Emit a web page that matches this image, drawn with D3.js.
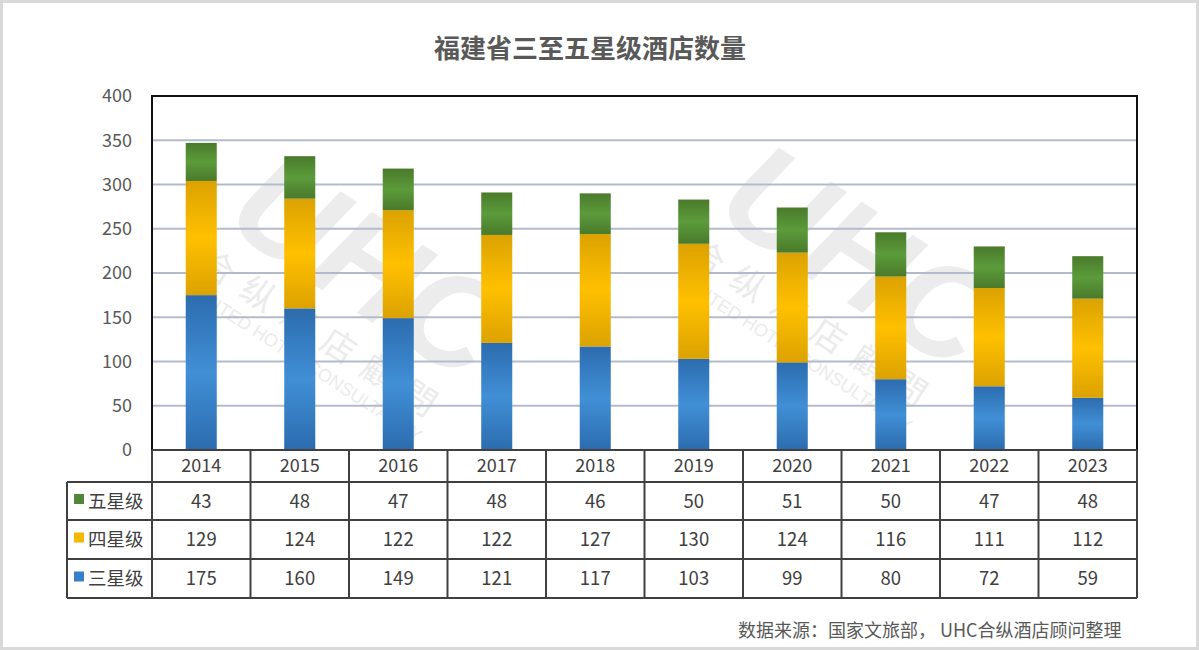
<!DOCTYPE html>
<html><head><meta charset="utf-8">
<script src="https://cdn.jsdelivr.net/npm/d3@7"></script>
<style>
html,body{margin:0;padding:0;background:#fff;}
svg{display:block;font-family:"Noto Sans CJK SC","Noto Sans",sans-serif;}
</style></head>
<body>
<svg id="c" width="1199" height="650"></svg>
<script>
const years = ["2014","2015","2016","2017","2018","2019","2020","2021","2022","2023"];
const threeStar = [175,160,149,121,117,103,99,80,72,59];
const fourStar = [129,124,122,122,127,130,124,116,111,112];
const fiveStar = [43,48,47,48,46,50,51,50,47,48];
const seriesNames = ["三星级","四星级","五星级"];
const yTicks = [0,50,100,150,200,250,300,350,400];
const title = "福建省三至五星级酒店数量";
const source = "数据来源：国家文旅部， UHC合纵酒店顾问整理";

const svg = d3.select("#c");
const W = 1199, H = 650;
const L = 152, R = 1137, T = 96, B = 450;

// outer frame
svg.append("rect").attr("x",1.5).attr("y",1.5).attr("width",W-3).attr("height",H-3)
  .attr("fill","#fff").attr("stroke","#d9d9d9").attr("stroke-width",3);

// gradients
const defs = svg.append("defs");
const grads = [
  {id:"g3", edge:"#2c6cae", mid:"#418fd6"},
  {id:"g4", edge:"#dca200", mid:"#ffc000"},
  {id:"g5", edge:"#4a7a2b", mid:"#5c9b3b"}
];
grads.forEach(g=>{
  const lg = defs.append("linearGradient").attr("id",g.id).attr("x1",0).attr("y1",0).attr("x2",0).attr("y2",1);
  lg.append("stop").attr("offset","0%").attr("stop-color",g.edge);
  lg.append("stop").attr("offset","50%").attr("stop-color",g.mid);
  lg.append("stop").attr("offset","100%").attr("stop-color",g.edge);
});

const x = d3.scaleBand().domain(years).range([L,R]).paddingInner(0.685).paddingOuter(0.3425);
const xc = d3.scaleBand().domain(years).range([L,R]).padding(0);
const y = d3.scaleLinear().domain([0,400]).range([B,T]);

// title
svg.append("text").attr("x",590).attr("y",58).attr("text-anchor","middle")
  .attr("font-size",26).attr("font-weight","bold").attr("fill","#595959").text(title);

// watermarks (behind)
function watermark(cx, cy){
  const g = svg.append("g").attr("transform",`translate(${cx},${cy}) rotate(33)`).attr("fill","#ebebeb");
  g.append("text").attr("x",0).attr("y",0).attr("text-anchor","middle").attr("font-size",135)
    .attr("font-weight","bold").attr("font-style","italic").attr("font-family","Liberation Sans, Arial, sans-serif")
    .attr("fill","#ececec").text("UHC");
  g.append("text").attr("x",0).attr("y",50).attr("text-anchor","middle").attr("font-size",34)
    .attr("letter-spacing",14).text("合纵酒店顧問");
  g.append("text").attr("x",0).attr("y",76).attr("text-anchor","middle").attr("font-size",18)
    .attr("font-family","Liberation Sans, Arial, sans-serif").text("UNITED HOTEL CONSULTANCY");
}
watermark(345,305);
watermark(835,295);

// gridlines
svg.append("g").selectAll("line").data(yTicks.filter(d=>d>0 && d<400)).join("line")
  .attr("x1",L).attr("x2",R).attr("y1",d=>y(d)).attr("y2",d=>y(d))
  .attr("stroke","#b3bbcb").attr("stroke-width",2);

// y axis
const yAxis = d3.axisLeft(y).tickValues(yTicks).tickSize(0).tickPadding(20);
const ya = svg.append("g").attr("transform",`translate(${L},0)`).call(yAxis);
ya.select(".domain").remove();
ya.selectAll("text").attr("font-size",18).attr("fill","#595959").attr("font-family","Noto Sans CJK SC, sans-serif");

// stacked bars
const rows = years.map((yr,i)=>({year:yr, s3:threeStar[i], s4:fourStar[i], s5:fiveStar[i]}));
const stack = d3.stack().keys(["s3","s4","s5"])(rows);
const fills = ["url(#g3)","url(#g4)","url(#g5)"];
svg.append("g").selectAll("g").data(stack).join("g").attr("fill",(d,i)=>fills[i])
  .selectAll("rect").data(d=>d).join("rect")
  .attr("x",d=>x(d.data.year)).attr("width",x.bandwidth())
  .attr("y",d=>y(d[1])).attr("height",d=>y(d[0])-y(d[1]));

// plot frame
svg.append("rect").attr("x",L).attr("y",T).attr("width",R-L).attr("height",B-T)
  .attr("fill","none").attr("stroke","#111").attr("stroke-width",2);

// data table
const rowY = [450,482,520,559,598];
const tableStroke = "#404040";
const tg = svg.append("g");
tg.append("line").attr("x1",L).attr("x2",R).attr("y1",rowY[0]).attr("y2",rowY[0]).attr("stroke",tableStroke).attr("stroke-width",2);
rowY.slice(1).forEach(yy=>{
  tg.append("line").attr("x1",67).attr("x2",R).attr("y1",yy).attr("y2",yy).attr("stroke",tableStroke).attr("stroke-width",2);
});
tg.append("line").attr("x1",67).attr("x2",67).attr("y1",rowY[1]).attr("y2",rowY[4]).attr("stroke",tableStroke).attr("stroke-width",2);
years.forEach(yr=>{
  tg.append("line").attr("x1",xc(yr)).attr("x2",xc(yr)).attr("y1",rowY[0]).attr("y2",rowY[4]).attr("stroke",tableStroke).attr("stroke-width",2);
});
tg.append("line").attr("x1",R).attr("x2",R).attr("y1",rowY[0]).attr("y2",rowY[4]).attr("stroke",tableStroke).attr("stroke-width",2);

tg.selectAll("text.yr").data(years).join("text").attr("class","yr")
  .attr("x",d=>xc(d)+xc.bandwidth()/2).attr("y",(rowY[0]+rowY[1])/2).attr("dy","0.36em")
  .attr("text-anchor","middle").attr("font-size",18).attr("fill","#404040").text(d=>d);

const tableRows = [
  {name:seriesNames[2], vals:fiveStar, color:"#50863a"},
  {name:seriesNames[1], vals:fourStar, color:"#f4b800"},
  {name:seriesNames[0], vals:threeStar, color:"#3580c8"}
];
tableRows.forEach((r,ri)=>{
  const cy = (rowY[ri+1]+rowY[ri+2])/2;
  tg.append("rect").attr("x",74).attr("y",cy-7).attr("width",10).attr("height",10).attr("fill",r.color);
  tg.append("text").attr("x",88).attr("y",cy).attr("dy","0.36em").attr("font-size",18.5)
    .attr("fill","#404040").text(r.name);
  tg.selectAll(null).data(r.vals).join("text")
    .attr("x",(d,i)=>xc(years[i])+xc.bandwidth()/2).attr("y",cy).attr("dy","0.36em")
    .attr("text-anchor","middle").attr("font-size",18.5).attr("fill","#404040").text(d=>d);
});

svg.append("text").attr("x",738).attr("y",637).attr("font-size",18).attr("fill","#595959").text(source);
</script>
</body></html>
